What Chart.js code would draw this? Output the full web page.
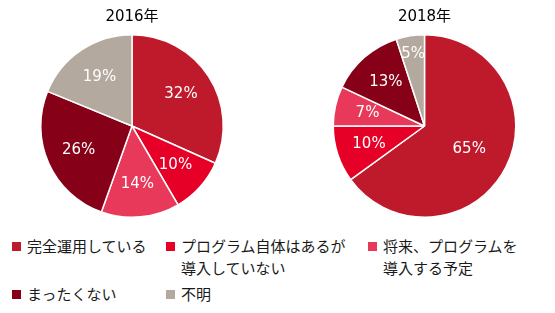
<!DOCTYPE html>
<html>
<head>
<meta charset="utf-8">
<script src="https://cdn.jsdelivr.net/npm/chart.js@4"></script>
<style>
  html, body { margin: 0; padding: 0; background: #fff; overflow: hidden; }
  body { width: 555px; height: 313px; position: relative; }
  .pie { position: absolute; top: 0; height: 222px; }
  #pie2016 { left: 0; width: 264px; }
  #pie2018 { left: 294px; width: 261px; }
  #legend {
    position: absolute; left: 12px; top: 235px;
    display: grid; grid-template-columns: 154px 202px auto; row-gap: 4px;
    font-family: "Noto Sans CJK JP", "DejaVu Sans", sans-serif; font-size: 15px;
    line-height: 22px; color: #1a1a1a;
  }
  .item { display: flex; align-items: flex-start; }
  .box { width: 9px; height: 9px; margin-top: 6.5px; margin-right: 6px; flex: none; }
  .txt { white-space: pre-line; }
</style>
</head>
<body>
<div class="pie" id="pie2016"><canvas id="c2016"></canvas></div>
<div class="pie" id="pie2018"><canvas id="c2018"></canvas></div>
<div id="legend"></div>
<script>
// 凡例カテゴリ（改行位置は元図に合わせる）
const categories = [
  '完全運用している',
  'プログラム自体はあるが\n導入していない',
  '将来、プログラムを\n導入する予定',
  'まったくない',
  '不明'
];
const colors = ['#be1a2c', '#e60027', '#e8395b', '#860017', '#b3a99e'];

const titles = ['2016年', '2018年'];
const values2016 = [32, 10, 14, 26, 19];
const values2018 = [65, 10, 7, 13, 5];

const FONT = '"DejaVu Sans", "Noto Sans CJK JP", sans-serif';

// スライス内に白文字でパーセントを描く
const pctLabels = {
  id: 'pctLabels',
  afterDatasetsDraw(chart) {
    const ctx = chart.ctx;
    const ds = chart.data.datasets[0];
    const total = ds.data.reduce((a, b) => a + b, 0);
    ctx.save();
    ctx.fillStyle = '#fff';
    ctx.font = '15px ' + FONT;
    ctx.textAlign = 'center';
    ctx.textBaseline = 'middle';
    chart.getDatasetMeta(0).data.forEach((arc, i) => {
      const p = arc.getProps(['x', 'y', 'startAngle', 'endAngle', 'outerRadius'], true);
      const mid = (p.startAngle + p.endAngle) / 2;
      const share = ds.data[i] / total;
      const k = share < 0.06 ? 0.8 : (share > 0.5 ? 0.55 : 0.64);
      const r = p.outerRadius * k;
      ctx.fillText(ds.data[i] + '%', p.x + Math.cos(mid) * r, p.y + Math.sin(mid) * r);
    });
    ctx.restore();
  }
};

function makePie(id, title, values) {
  new Chart(document.getElementById(id), {
    type: 'pie',
    data: {
      labels: categories,
      datasets: [{
        data: values,
        backgroundColor: colors,
        borderColor: '#fff',
        borderWidth: 1.5
      }]
    },
    options: {
      responsive: true,
      maintainAspectRatio: false,
      animation: false,
      layout: { padding: { bottom: 4 } },
      plugins: {
        legend: { display: false },
        tooltip: { enabled: false },
        title: {
          display: true,
          text: title,
          color: '#000',
          font: { family: FONT, size: 15, weight: 'normal' },
          padding: { top: 8, bottom: 8 }
        }
      }
    },
    plugins: [pctLabels]
  });
}

makePie('c2016', titles[0], values2016);
makePie('c2018', titles[1], values2018);

// HTML凡例
const legend = document.getElementById('legend');
categories.forEach((name, i) => {
  const item = document.createElement('div');
  item.className = 'item';
  const box = document.createElement('span');
  box.className = 'box';
  box.style.background = colors[i];
  const txt = document.createElement('span');
  txt.className = 'txt';
  txt.textContent = name;
  item.appendChild(box);
  item.appendChild(txt);
  legend.appendChild(item);
});
</script>
</body>
</html>
